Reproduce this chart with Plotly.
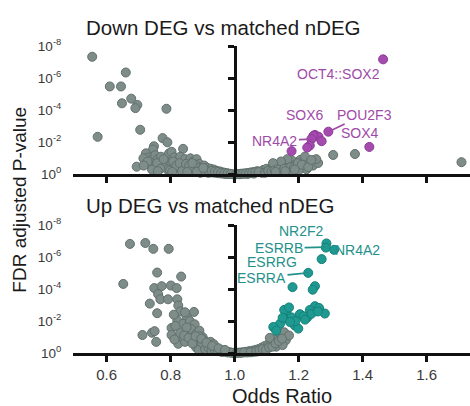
import plotly.graph_objects as go

# ---------------- data ----------------
# y values are -log10(FDR adjusted P)
down_gray_x = [0.555, 0.572, 0.610, 0.645, 0.660, 0.648, 0.677, 0.696, 0.690, 0.787, 0.705, 0.775, 0.790,
               0.748, 0.745, 0.723, 0.730, 0.715, 0.738, 0.752, 0.760, 0.770, 0.782, 0.795, 0.803, 0.812,
               0.820, 0.839, 0.830, 0.845, 0.855, 0.862, 0.870, 0.881, 0.890, 0.872, 0.895, 0.905, 0.915,
               0.925, 0.935, 0.945, 0.955, 0.965, 0.975, 0.985, 0.994, 0.694, 0.754, 0.735, 0.765, 0.785,
               0.800, 0.810, 0.825, 0.840, 0.850, 0.860, 0.875, 0.885, 0.900, 0.910, 0.920, 0.930, 0.940,
               0.950, 0.960, 0.970, 0.980, 0.775, 0.790,
               0.728, 0.742, 0.758, 0.768, 0.778, 0.798, 0.808, 0.818, 0.828, 0.836, 0.848, 0.858, 0.866,
               0.878, 0.888, 0.898, 0.908, 0.918, 0.928, 0.938, 0.948, 0.958, 0.968, 0.978, 0.988, 0.716,
               0.760, 0.805, 0.852, 0.893, 0.868, 0.882, 0.902,
               1.005, 1.012, 1.020, 1.030, 1.040, 1.050, 1.060, 1.070, 1.080, 1.090, 1.100, 1.110, 1.120,
               1.130, 1.140, 1.150, 1.160, 1.170, 1.180, 1.165, 1.190, 1.194, 1.205, 1.215, 1.220, 1.225,
               1.235, 1.245, 1.261, 1.255, 1.308, 1.376, 1.709, 1.145, 1.120, 1.100, 1.085, 1.140, 1.170,
               1.200, 1.060, 1.040,
               1.015, 1.025, 1.035, 1.045, 1.055, 1.065, 1.075, 1.095, 1.105, 1.115, 1.125, 1.135, 1.155,
               1.175, 1.185, 1.198, 1.210, 1.230, 1.240, 1.128, 1.158, 1.188]
down_gray_y = [7.33, 2.34, 5.48, 5.48, 6.35, 4.43, 4.72, 4.33, 4.13, 4.09, 2.78, 2.26, 2.00,
               1.75, 1.55, 1.31, 1.05, 1.00, 0.90, 1.20, 0.95, 1.10, 0.85, 1.30, 1.41, 1.05,
               0.80, 1.59, 1.10, 0.95, 0.75, 1.00, 0.80, 0.95, 0.65, 0.55, 0.45, 0.55, 0.40,
               0.35, 0.30, 0.22, 0.18, 0.12, 0.08, 0.04, 0.01, 0.48, 0.42, 0.60, 0.55, 0.50,
               0.65, 0.45, 0.35, 0.50, 0.30, 0.45, 0.30, 0.25, 0.20, 0.15, 0.20, 0.12, 0.10,
               0.07, 0.05, 0.03, 0.02, 0.75, 0.30,
               0.80, 0.30, 0.70, 0.35, 0.95, 0.25, 0.80, 0.55, 0.70, 0.20, 0.65, 0.55, 0.25,
               0.60, 0.40, 0.35, 0.30, 0.10, 0.22, 0.18, 0.15, 0.10, 0.06, 0.05, 0.02, 0.55,
               0.20, 0.15, 0.15, 0.10, 0.70, 0.15, 0.40,
               0.01, 0.02, 0.04, 0.06, 0.08, 0.12, 0.15, 0.20, 0.18, 0.28, 0.35, 0.30, 0.45,
               0.55, 0.40, 0.65, 0.50, 0.75, 0.85, 0.95, 0.60, 0.52, 0.90, 0.40, 1.11, 0.32,
               0.70, 0.55, 0.71, 0.95, 1.21, 1.27, 0.76, 0.80, 0.70, 0.15, 0.10, 0.25, 0.30,
               0.25, 0.05, 0.03,
               0.01, 0.03, 0.05, 0.06, 0.10, 0.12, 0.14, 0.10, 0.22, 0.18, 0.25, 0.30, 0.35,
               0.45, 0.40, 0.70, 0.60, 0.45, 0.90, 0.15, 0.20, 0.30]

down_hi_x = [1.464, 1.421, 1.293, 1.251, 1.262, 1.246, 1.272, 1.240, 1.235, 1.227, 1.178]
down_hi_y = [7.17, 1.71, 2.66, 2.46, 2.35, 2.40, 2.07, 2.20, 1.80, 1.67, 1.45]

up_gray_x = [0.673, 0.721, 0.746, 0.794, 0.652, 0.758, 0.833, 0.749, 0.772, 0.801, 0.819, 0.761, 0.768,
             0.792, 0.821, 0.824, 0.735, 0.758, 0.873, 0.850, 0.821, 0.803, 0.839, 0.712, 0.742, 0.750,
             0.755, 0.803, 0.824, 0.839, 0.860, 0.830, 0.810, 0.845, 0.860, 0.875, 0.865, 0.880, 0.890,
             0.900, 0.850, 0.815, 0.830, 0.812, 0.845, 0.870, 0.885, 0.895, 0.905, 0.915, 0.925, 0.935,
             0.945, 0.955, 0.965, 0.975, 0.985, 0.995, 0.880, 0.900, 0.920, 0.940, 0.960, 0.910, 0.890,
             0.925, 0.935,
             0.842, 0.856, 0.868, 0.878, 0.888, 0.898, 0.908, 0.918, 0.928, 0.938, 0.948, 0.958, 0.968,
             0.978, 0.990, 0.896, 0.912, 0.930, 0.950, 0.970,
             1.005, 1.015, 1.025, 1.035, 1.045, 1.055, 1.065, 1.075, 1.085, 1.095, 1.105, 1.115, 1.125,
             1.135, 1.145, 1.155, 1.080, 1.100, 1.120, 1.140, 1.160, 1.060, 1.090, 1.110, 1.130, 1.150,
             1.170, 1.040, 1.070,
             1.010, 1.020, 1.030, 1.050, 1.068, 1.078, 1.088, 1.098, 1.108, 1.118, 1.128, 1.138, 1.148]
up_gray_y = [6.82, 6.88, 6.51, 6.51, 4.32, 5.03, 4.78, 4.06, 4.18, 4.22, 4.06, 3.68, 3.36,
             3.36, 3.36, 2.97, 3.09, 2.49, 2.57, 2.29, 2.03, 1.57, 1.83, 1.13, 1.27, 1.37,
             0.70, 1.13, 0.58, 0.94, 1.33, 2.60, 2.40, 2.55, 2.00, 1.80, 1.50, 1.20, 1.40,
             1.00, 1.60, 1.70, 1.25, 0.85, 0.70, 0.90, 0.70, 0.50, 0.80, 0.60, 0.45, 0.35,
             0.28, 0.22, 0.15, 0.10, 0.05, 0.02, 0.35, 0.30, 0.25, 0.15, 0.08, 0.40, 1.05,
             0.70, 0.55,
             1.10, 0.95, 0.60, 1.05, 0.20, 0.65, 0.25, 0.35, 0.15, 0.20, 0.12, 0.10, 0.08,
             0.04, 0.02, 0.90, 0.65, 0.45, 0.30, 0.20,
             0.01, 0.03, 0.05, 0.08, 0.12, 0.15, 0.20, 0.25, 0.35, 0.45, 0.55, 0.70, 0.85,
             1.00, 1.15, 1.30, 0.15, 0.30, 0.45, 0.60, 0.80, 0.08, 0.20, 0.95, 0.40, 0.50,
             1.10, 0.04, 0.10,
             0.02, 0.02, 0.04, 0.05, 0.12, 0.18, 0.25, 0.20, 0.35, 0.40, 0.60, 0.75, 0.90]

up_hi_x = [1.287, 1.285, 1.311, 1.272, 1.230, 1.181, 1.251, 1.244, 1.251, 1.282, 1.227, 1.204, 1.162,
           1.168, 1.188, 1.142, 1.121, 1.178, 1.235, 1.264, 1.199, 1.155, 1.170, 1.240, 1.215, 1.130,
           1.150, 1.190, 1.260, 1.220, 1.173]
up_hi_y = [6.85, 6.59, 6.45, 5.87, 5.01, 4.12, 4.18, 3.96, 2.93, 2.47, 2.23, 2.43, 2.49,
           2.13, 1.73, 1.83, 1.63, 2.23, 2.69, 2.82, 1.53, 2.70, 2.85, 2.45, 2.30, 1.40,
           2.20, 2.00, 2.60, 2.09, 1.94]

# labels: text, label position, optional target point for a leader line
down_labels = ["OCT4::SOX2", "SOX6", "POU2F3", "SOX4", "NR4A2"]
down_label_x = [1.324, 1.220, 1.407, 1.392, 1.126]
down_label_y = [6.27, 3.73, 3.73, 2.60, 2.10]
down_target_x = [None, None, 1.293, None, 1.245]
down_target_y = [None, None, 2.66, None, 2.20]

up_labels = ["NR2F2", "ESRRB", "NR4A2", "ESRRG", "ESRRA"]
up_label_x = [1.209, 1.139, 1.384, 1.116, 1.084]
up_label_y = [7.60, 6.55, 6.47, 5.71, 4.72]
up_target_x = [None, 1.285, None, None, 1.230]
up_target_y = [None, 6.62, None, None, 5.01]

x_ticks = [0.6, 0.8, 1.0, 1.2, 1.4, 1.6]
x_ticktext = ["0.6", "0.8", "1.0", "1.2", "1.4", "1.6"]
y_ticks = [0, 2, 4, 6, 8]
y_ticktext = ["10<sup>0</sup>", "10<sup>-2</sup>", "10<sup>-4</sup>", "10<sup>-6</sup>", "10<sup>-8</sup>"]

titles = ["Down DEG vs matched nDEG", "Up DEG vs matched nDEG"]

# ---------------- style ----------------
W, H = 470, 406
FONT = "Liberation Sans, Arial, sans-serif"
GRAY, GRAY_LINE = "#7e8d89", "#62706c"
MAG, MAG_LINE, MAG_TXT = "#a54bb0", "#8e3a98", "#a04aa8"
TEAL, TEAL_LINE, TEAL_TXT = "#1f9a91", "#15807a", "#24918a"
AX = "#111111"
TXT = "#1a1a1a"

x_range = [0.495, 1.7356]
y_range = [0, 8]
x_dom = [73 / W, 1.0]
top_dom = [1 - 172 / H, 1 - 37.7 / H]
bot_dom = [1 - 359 / H, 1 - 225 / H]
vpos = x_dom[0] + (1.0 - x_range[0]) / (x_range[1] - x_range[0]) * (x_dom[1] - x_dom[0])

fig = go.Figure()


def pts(x, y, fill, line, xa, ya):
    fig.add_trace(go.Scatter(x=x, y=y, mode="markers", xaxis=xa, yaxis=ya, cliponaxis=False,
                             hoverinfo="skip", showlegend=False,
                             marker=dict(size=9, color=fill, line=dict(width=1, color=line))))


pts(down_gray_x, down_gray_y, GRAY, GRAY_LINE, "x", "y")
pts(down_hi_x, down_hi_y, MAG, MAG_LINE, "x", "y")
pts(up_gray_x, up_gray_y, GRAY, GRAY_LINE, "x2", "y2")
pts(up_hi_x, up_hi_y, TEAL, TEAL_LINE, "x2", "y2")

# invisible traces so the overlay axes (vertical line at OR = 1) are drawn
for ya, xa in [("y3", "x"), ("y4", "x2")]:
    fig.add_trace(go.Scatter(x=[1.0], y=[0], xaxis=xa, yaxis=ya, mode="markers",
                             marker=dict(opacity=0), hoverinfo="skip", showlegend=False))

ann = []


def add_labels(texts, lx, ly, tx, ty, col, xr, yr):
    for t, a, b, c, d in zip(texts, lx, ly, tx, ty):
        if c is None:
            ann.append(dict(text=t, x=a, y=b, xref=xr, yref=yr, showarrow=False,
                            font=dict(size=14, color=col, family=FONT)))
        else:
            ann.append(dict(text=t, x=c, y=d, ax=a, ay=b, xref=xr, yref=yr, axref=xr, ayref=yr,
                            showarrow=True, arrowhead=0, arrowwidth=1.8, arrowcolor=col, standoff=0,
                            font=dict(size=14, color=col, family=FONT)))


add_labels(down_labels, down_label_x, down_label_y, down_target_x, down_target_y, MAG_TXT, "x", "y")
add_labels(up_labels, up_label_x, up_label_y, up_target_x, up_target_y, TEAL_TXT, "x2", "y2")

ann.append(dict(text=titles[0], x=84 / W, y=1 - 18 / H, xref="paper", yref="paper", xanchor="left",
                yanchor="middle", showarrow=False, font=dict(size=20.5, color=TXT, family=FONT)))
ann.append(dict(text=titles[1], x=84 / W, y=1 - 204.5 / H, xref="paper", yref="paper", xanchor="left",
                yanchor="middle", showarrow=False, font=dict(size=20.5, color=TXT, family=FONT)))
ann.append(dict(text="FDR adjusted P-value", x=20 / W, y=1 - 198.5 / H, xref="paper", yref="paper",
                textangle=-90, showarrow=False, xanchor="center", yanchor="middle",
                font=dict(size=19, color=TXT, family=FONT)))
ann.append(dict(text="Odds Ratio", x=281.5 / W, y=0, xref="paper", yref="paper",
                showarrow=False, xanchor="center", yanchor="bottom", yshift=-11,
                font=dict(size=20, color=TXT, family=FONT)))

xcommon = dict(range=x_range, domain=x_dom, tickvals=x_ticks, ticktext=x_ticktext, showline=True,
               linewidth=2.5, linecolor=AX, ticks="outside", ticklen=6, tickwidth=2.5, tickcolor=AX,
               showgrid=False, zeroline=False, tickfont=dict(size=15, color="#3a3a3a", family=FONT))
ylab = dict(range=y_range, tickvals=y_ticks, ticktext=y_ticktext, showline=False, showgrid=False,
            zeroline=False, ticks="outside", ticklen=8, tickcolor="rgba(0,0,0,0)",
            tickfont=dict(size=13.5, color="#3a3a3a", family=FONT))
yline = dict(range=y_range, tickvals=y_ticks, showticklabels=False, showline=True, linewidth=2.5,
             linecolor=AX, ticks="outside", ticklen=6, tickwidth=2.5, tickcolor=AX, showgrid=False,
             zeroline=False, anchor="free", position=vpos, side="left")

fig.update_layout(
    width=W, height=H, margin=dict(l=0, r=0, t=0, b=0),
    paper_bgcolor="white", plot_bgcolor="rgba(0,0,0,0)",
    font=dict(family=FONT),
    xaxis=dict(**xcommon, anchor="y", showticklabels=False),
    xaxis2=dict(**xcommon, anchor="y2", showticklabels=True),
    yaxis=dict(**ylab, domain=top_dom, anchor="x"),
    yaxis2=dict(**ylab, domain=bot_dom, anchor="x2"),
    yaxis3=dict(**yline, overlaying="y"),
    yaxis4=dict(**yline, overlaying="y2"),
    annotations=ann,
)

fig.write_html("out.html")
